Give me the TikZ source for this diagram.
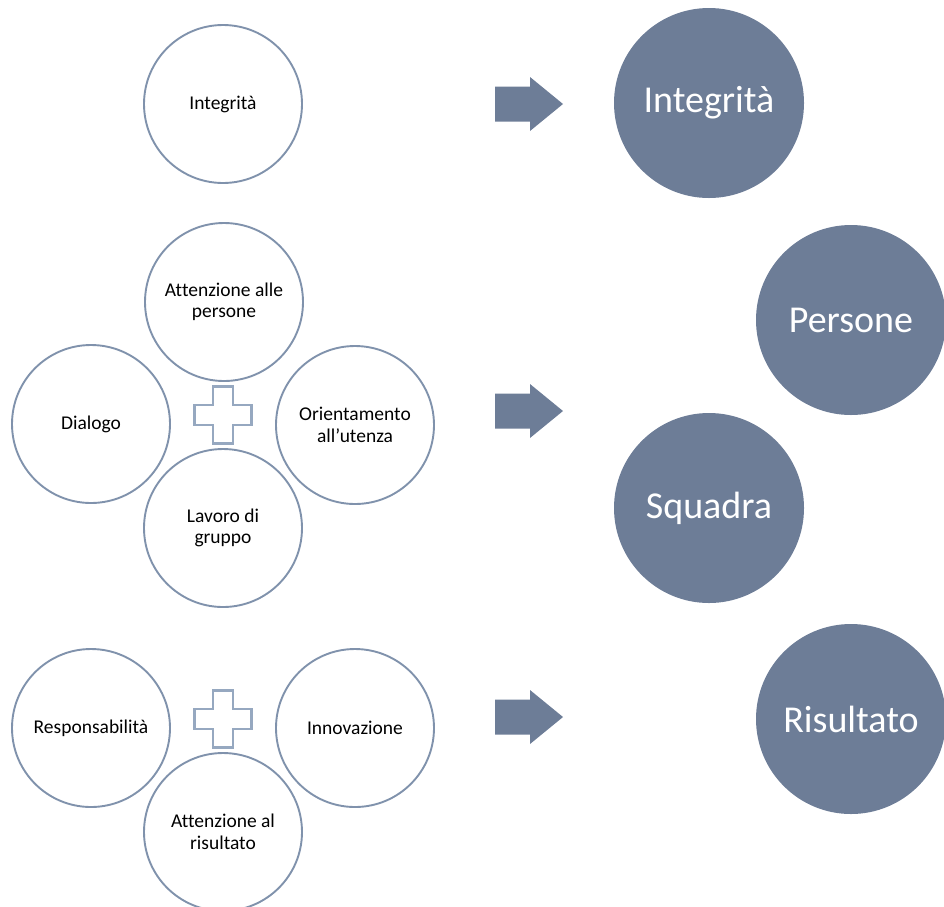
\documentclass[tikz,border=0pt]{standalone}
\usepackage{fontspec}
\setmainfont{Carlito}[Ligatures=NoCommon]
\definecolor{fillc}{RGB}{109,125,151}
\definecolor{linec}{RGB}{128,146,172}
\definecolor{plusc}{RGB}{150,168,192}
\begin{document}
\begin{tikzpicture}[x=1pt,y=-1pt,
  ring/.style={circle,draw=linec,line width=1.9pt,fill=white,minimum size=158pt,inner sep=0pt,align=center,font=\fontsize{19.5}{21.5}\selectfont},
  disc/.style={circle,fill=fillc,text=white,minimum size=190pt,inner sep=0pt,font=\fontsize{38}{42}\selectfont},
  blockarrow/.pic={\fill[fillc] (-34,-17.5) -- (1,-17.5) -- (1,-27) -- (34,0) -- (1,27) -- (1,17.5) -- (-34,17.5) -- cycle;},
  plussign/.pic={\draw[draw=plusc,line width=2.2pt,fill=white,line join=miter]
     (-10,-28.5) -- (10,-28.5) -- (10,-10) -- (28.5,-10) -- (28.5,10) -- (10,10) -- (10,28.5) -- (-10,28.5) -- (-10,10) -- (-28.5,10) -- (-28.5,-10) -- (-10,-10) -- cycle;}
]
\useasboundingbox (0,0) rectangle (944,906);
% row 1
\node[ring] (integ) at (223,104) {Integrità};
\pic at (529,104) {blockarrow};
\node[disc] (Dinteg) at (709,103) {Integrità};
% row 2
\node[ring] (attp) at (224,302) {Attenzione alle\\persone};
\node[ring] (dial) at (91,424) {Dialogo};
\node[ring] (orient) at (355,425) {Orientamento\\all’utenza};
\node[ring] (lavoro) at (223,528) {Lavoro di\\gruppo};
\pic at (223,415) {plussign};
\pic at (529,411) {blockarrow};
\node[disc] (Dpers) at (851,320) {Persone};
\node[disc] (Dsq) at (709,508) {Squadra};
% row 3
\node[ring] (resp) at (91,728) {Responsabilità};
\node[ring] (innov) at (355,728) {Innovazione};
\node[ring] (attr) at (223,832) {Attenzione al\\risultato};
\pic at (223,719) {plussign};
\pic at (529,717) {blockarrow};
\node[disc] (Dris) at (851,719) {Risultato};
\end{tikzpicture}
\end{document}
